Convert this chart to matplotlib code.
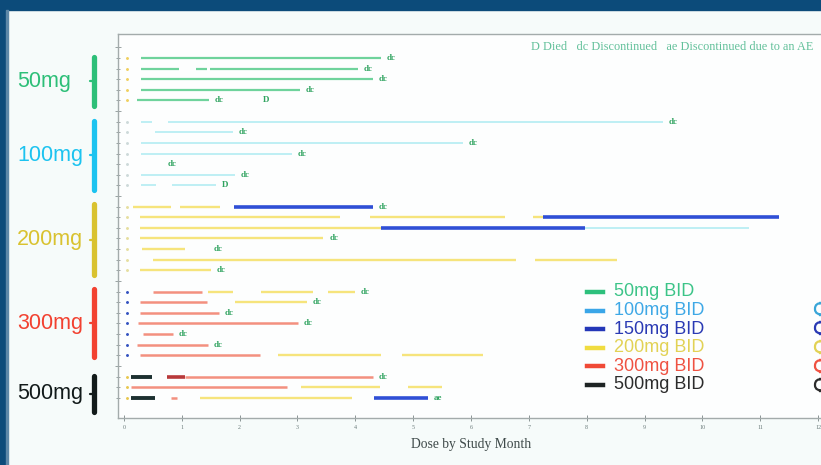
import matplotlib.pyplot as plt
from matplotlib.lines import Line2D
from matplotlib.patches import Rectangle, FancyBboxPatch
from matplotlib.transforms import blended_transform_factory

# %%
# Swimmer data: one entry per patient row.
# Each segment is (start month, end month, dose level)
groups = ['50mg', '100mg', '200mg', '300mg', '500mg']
group_rows = [
    [1, 2, 3, 4, 5],
    [7, 8, 9, 10, 11, 12, 13],
    [15, 16, 17, 18, 19, 20, 21],
    [23, 24, 25, 26, 27, 28, 29],
    [31, 32, 33],
]

segments = {
    # 50mg
    1: [(0.29, 4.44, '50')],
    2: [(0.29, 0.95, '50'), (1.24, 1.43, '50'), (1.49, 4.05, '50')],
    3: [(0.29, 4.31, '50')],
    4: [(0.29, 3.04, '50')],
    5: [(0.22, 1.47, '50')],
    # 100mg
    7: [(0.29, 0.48, '100'), (0.77, 9.31, '100')],
    8: [(0.54, 1.89, '100')],
    9: [(0.29, 5.86, '100')],
    10: [(0.29, 2.91, '100')],
    11: [],
    12: [(0.29, 1.92, '100')],
    13: [(0.29, 0.55, '100'), (0.84, 1.60, '100')],
    # 200mg
    15: [(0.16, 0.82, '200'), (0.98, 1.66, '200'), (1.91, 4.31, '150')],
    16: [(0.28, 3.74, '200'), (4.25, 6.58, '200'), (7.07, 7.24, '200'), (7.24, 11.32, '150')],
    17: [(0.28, 4.45, '200'), (4.45, 7.97, '150'), (7.97, 10.81, '100')],
    18: [(0.28, 3.45, '200')],
    19: [(0.31, 1.05, '200')],
    20: [(0.51, 6.78, '200'), (7.10, 8.53, '200')],
    21: [(0.28, 1.51, '200')],
    # 300mg
    23: [(0.51, 1.36, '300'), (1.45, 1.89, '200'), (2.37, 3.27, '200'), (3.53, 3.99, '200')],
    24: [(0.28, 1.43, '300'), (1.92, 3.16, '200')],
    25: [(0.28, 1.65, '300')],
    26: [(0.25, 3.01, '300')],
    27: [(0.33, 0.85, '300')],
    28: [(0.22, 1.46, '300')],
    29: [(0.28, 2.35, '300'), (2.67, 4.45, '200'), (4.80, 6.21, '200')],
    # 500mg
    31: [(0.13, 0.48, '500'), (0.74, 1.05, '300d'), (1.05, 4.31, '300')],
    32: [(0.13, 2.82, '300'), (3.07, 4.42, '200'), (4.91, 5.50, '200')],
    33: [(0.13, 0.54, '500'), (0.81, 0.92, '300'), (1.31, 3.95, '200'), (4.32, 5.26, '150')],
}

# end-of-treatment flags: row -> list of (month, code)
flags = {
    1: [(4.44, 'dc')], 2: [(4.05, 'dc')], 3: [(4.31, 'dc')], 4: [(3.04, 'dc')],
    5: [(1.47, 'dc'), (2.30, 'D')],
    7: [(9.31, 'dc')], 8: [(1.89, 'dc')], 9: [(5.86, 'dc')], 10: [(2.91, 'dc')],
    11: [(0.65, 'dc')], 12: [(1.92, 'dc')], 13: [(1.60, 'D')],
    15: [(4.31, 'dc')], 18: [(3.45, 'dc')], 19: [(1.45, 'dc')], 21: [(1.51, 'dc')],
    23: [(3.99, 'dc')], 24: [(3.16, 'dc')], 25: [(1.65, 'dc')], 26: [(3.01, 'dc')],
    27: [(0.85, 'dc')], 28: [(1.46, 'dc')],
    31: [(4.31, 'dc')], 33: [(5.26, 'ae')],
}

legend_labels = ['50mg BID', '100mg BID', '150mg BID', '200mg BID', '300mg BID', '500mg BID']
xticks = list(range(0, 13))

# %%
# styles
bar_color = {'50': '#6fd39c', '100': '#b9eef4', '150': '#2f4fd6', '200': '#f6e47c',
             '300': '#f3907f', '300d': '#b8393a', '500': '#1c3030'}
bar_lw = {'50': 1.6, '100': 1.3, '150': 2.6, '200': 1.7, '300': 1.8, '300d': 2.6, '500': 2.8}
group_color = ['#2dbf78', '#1cc3f0', '#d9c22f', '#f24130', '#121a1a']
group_dot = ['#f0d060', '#cdd9d9', '#e6dfa0', '#3452c0', '#e8c850']
legend_line = ['#2dc07c', '#3aa6e8', '#2437b8', '#f0dc40', '#f04a36', '#1e2424']
legend_text = ['#3cc488', '#3ea8e6', '#2a3ab4', '#e2d255', '#ef5242', '#2c2c2c']
flag_color = '#2fa35f'

fig = plt.figure(figsize=(8.21, 4.65), dpi=100, facecolor='#f6fbfa')
W, H = 821, 465

# slide frame
fig.add_artist(Rectangle((0, 1 - 10 / H), 1, 10 / H, transform=fig.transFigure,
                         color='#0c4b7a', zorder=0))
fig.add_artist(Rectangle((0, 0), 6 / W, 1, transform=fig.transFigure,
                         color='#0c4b7a', zorder=0))
fig.add_artist(Rectangle((6 / W, 0), 2 / W, 1 - 10 / H, transform=fig.transFigure,
                         color='#5d88a8', zorder=0))

ax = fig.add_axes([118 / W, 47 / H, (824 - 118) / W, (418 - 34) / H])
ax.set_facecolor('#fdfefe')
ax.set_xlim(-0.1, 12.1)
ax.set_ylim(34.9, -1.25)

for row, segs in segments.items():
    for x0, x1, dose in segs:
        ax.plot([x0, x1], [row, row], color=bar_color[dose], lw=bar_lw[dose],
                solid_capstyle='butt', zorder=3 if dose in ('150', '500', '300d') else 2)

for row, fl in flags.items():
    for x, code in fl:
        ax.text(x + 0.1, row, code, color=flag_color, fontsize=6.5, fontweight='bold',
                family='Liberation Serif', ha='left', va='center')

for rows, c in zip(group_rows, group_dot):
    ax.plot([0.05] * len(rows), rows, ls='none', marker='.', ms=2.2, color=c)

ax.text(11.92, 0, 'D Died   dc Discontinued   ae Discontinued due to an AE',
        color='#62c09a', fontsize=8.8, family='Liberation Serif', ha='right', va='center')

# axes
for s in ['top', 'left', 'bottom']:
    ax.spines[s].set_color('#a3abab')
    ax.spines[s].set_linewidth(1.0)
ax.spines['right'].set_visible(False)
ax.set_xticks(xticks)
ax.set_xticklabels([str(t) for t in xticks], fontsize=4.3, family='Liberation Serif',
                   color='#6a7a7a')
ax.tick_params(axis='x', direction='inout', length=4, width=0.7, color='#8a9494', pad=3)
ax.set_yticks([0, 6, 14, 22, 30])
ax.set_yticks([r for rows in group_rows for r in rows], minor=True)
ax.set_yticklabels([])
ax.tick_params(axis='y', which='major', direction='inout', length=5, width=0.6, color='#8a9494')
ax.tick_params(axis='y', which='minor', direction='inout', length=3, width=0.6, color='#8a9494')
ax.set_xlabel('Dose by Study Month', fontsize=9.8, family='Liberation Serif',
              color='#3f4a4a', labelpad=6)

# group braces on the left
bt = blended_transform_factory(fig.transFigure, ax.transData)
brace_span = [(0.9, 5.5), (6.9, 13.4), (14.8, 21.4), (22.8, 29.2), (30.9, 34.3)]
for name, (y0, y1), c in zip(groups, brace_span, group_color):
    xb = 94 / W
    ax.add_line(Line2D([xb, xb], [y0, y1], transform=bt, color=c, lw=3.8,
                       solid_capstyle='round', clip_on=False))
    ym = (y0 + y1) / 2
    ax.add_line(Line2D([xb, 90 / W], [ym, ym], transform=bt, color=c, lw=1.6,
                       solid_capstyle='round', clip_on=False))
    ax.text(17 / W, ym, name, transform=bt, color=c, fontsize=15.5,
            family='Liberation Sans', ha='left', va='center', clip_on=False)

# dose legend
for i, (lab, lc, tc) in enumerate(zip(legend_labels, legend_line, legend_text)):
    yy = 1 - (292 + i * 18.5) / H
    fig.add_artist(Line2D([587 / W, 603 / W], [yy, yy], transform=fig.transFigure,
                          color=lc, lw=3.2))
    fig.text(614 / W, yy, lab, color=tc, fontsize=13, family='Liberation Sans',
             ha='left', va='center')

# cut-off toggle outlines at the right edge
for i, c in enumerate(['#3aa6d8', '#2a3ab4', '#e2d255', '#ef5242', '#2c2c2c']):
    yy = 1 - (309 + i * 19) / H
    fig.add_artist(FancyBboxPatch((815 / W, yy - 6 / H), 14 / W, 12 / H,
                                  boxstyle='round,pad=0,rounding_size=0.012',
                                  transform=fig.transFigure, fill=False,
                                  ec=c, lw=1.6))

fig.savefig('out.png', dpi=100, facecolor=fig.get_facecolor())
